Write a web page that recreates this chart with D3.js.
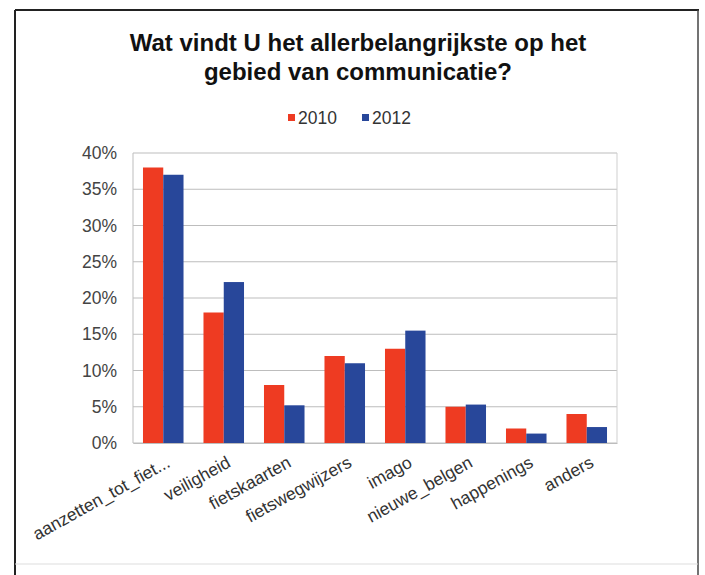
<!DOCTYPE html>
<html><head><meta charset="utf-8">
<script src="https://cdn.jsdelivr.net/npm/d3@7"></script>
<style>body{margin:0;background:#fff}svg{display:block}</style>
</head><body>
<svg id="c" width="705" height="575"></svg>
<script>
const categories = ["aanzetten_tot_fiet...","veiligheid","fietskaarten","fietswegwijzers","imago","nieuwe_belgen","happenings","anders"];
const series2010 = [38, 18, 8, 12, 13, 5, 2, 4];
const series2012 = [37, 22.2, 5.2, 11, 15.5, 5.3, 1.3, 2.2];
const seriesNames = ["2010","2012"];
const yTicks = [0,5,10,15,20,25,30,35,40];
const titleLines = ["Wat vindt U het allerbelangrijkste op het","gebied van communicatie?"];

const colors = ["#ee3b22","#28479a"];
const svg = d3.select("#c");
const font = "Arial, 'Liberation Sans', sans-serif";

// outer frame
svg.append("rect").attr("x",0).attr("y",0).attr("width",705).attr("height",575).attr("fill","#fff");
svg.append("line").attr("x1",15).attr("x2",699).attr("y1",10).attr("y2",10).attr("stroke","#222").attr("stroke-width",2);
svg.append("line").attr("x1",15).attr("x2",15).attr("y1",10).attr("y2",575).attr("stroke","#222").attr("stroke-width",2);
svg.append("line").attr("x1",698).attr("x2",698).attr("y1",10).attr("y2",575).attr("stroke","#444").attr("stroke-width",1.5);
svg.append("line").attr("x1",15).attr("x2",698).attr("y1",564).attr("y2",564).attr("stroke","#ddd").attr("stroke-width",1);

const m = {left:133, right:617, top:153, bottom:443};
const x = d3.scaleBand().domain(categories).range([m.left,m.right]).paddingInner(0.33).paddingOuter(0.165);
const xs = d3.scaleBand().domain(seriesNames).range([0,x.bandwidth()]);
const y = d3.scaleLinear().domain([0,40]).range([m.bottom,m.top]);

// gridlines
svg.append("g").selectAll("line").data(yTicks).join("line")
  .attr("x1",m.left).attr("x2",m.right).attr("y1",d=>y(d)).attr("y2",d=>y(d))
  .attr("stroke","#bdbdbd").attr("stroke-width",1);
svg.append("line").attr("x1",m.right).attr("x2",m.right).attr("y1",m.top).attr("y2",m.bottom).attr("stroke","#cfcfcf");
svg.append("line").attr("x1",m.left).attr("x2",m.left).attr("y1",m.top).attr("y2",m.bottom).attr("stroke","#bdbdbd");

// y axis
const yAxis = d3.axisLeft(y).tickValues(yTicks).tickFormat(d=>d+"%").tickSize(0).tickPadding(16);
const ga = svg.append("g").attr("transform",`translate(${m.left},0)`).call(yAxis);
ga.select(".domain").remove();
ga.selectAll("text").attr("font-family",font).attr("font-size",17.5).attr("fill","#444");

// bars
const data = [series2010, series2012];
const g = svg.append("g");
categories.forEach((c,i)=>{
  seriesNames.forEach((s,j)=>{
    g.append("rect").attr("x",x(c)+xs(s)).attr("width",xs.bandwidth())
      .attr("y",y(data[j][i])).attr("height",y(0)-y(data[j][i])).attr("fill",colors[j]);
  });
});

// x axis labels
const xAxis = d3.axisBottom(x).tickSize(0).tickPadding(0);
const gx = svg.append("g").attr("transform",`translate(0,${m.bottom})`).call(xAxis);
gx.select(".domain").attr("stroke","#bdbdbd");
gx.selectAll("text").attr("font-family",font).attr("font-size",17.5).attr("fill","#333")
  .attr("text-anchor","end").attr("dy","0.72em")
  .attr("transform","translate(2,12) rotate(-29)");

// title
svg.append("g").selectAll("text").data(titleLines).join("text")
  .attr("x",358).attr("y",(d,i)=>51+i*29).attr("text-anchor","middle")
  .attr("font-family",font).attr("font-weight","bold").attr("font-size",24).attr("fill","#111").text(d=>d);

// legend
const leg = svg.append("g");
const lx = [288, 362];
seriesNames.forEach((s,j)=>{
  leg.append("rect").attr("x",lx[j]).attr("y",114).attr("width",7).attr("height",7).attr("fill",colors[j]);
  leg.append("text").attr("x",lx[j]+10).attr("y",124).attr("font-family",font).attr("font-size",17.5).attr("fill","#333").text(s);
});
</script>
</body></html>
